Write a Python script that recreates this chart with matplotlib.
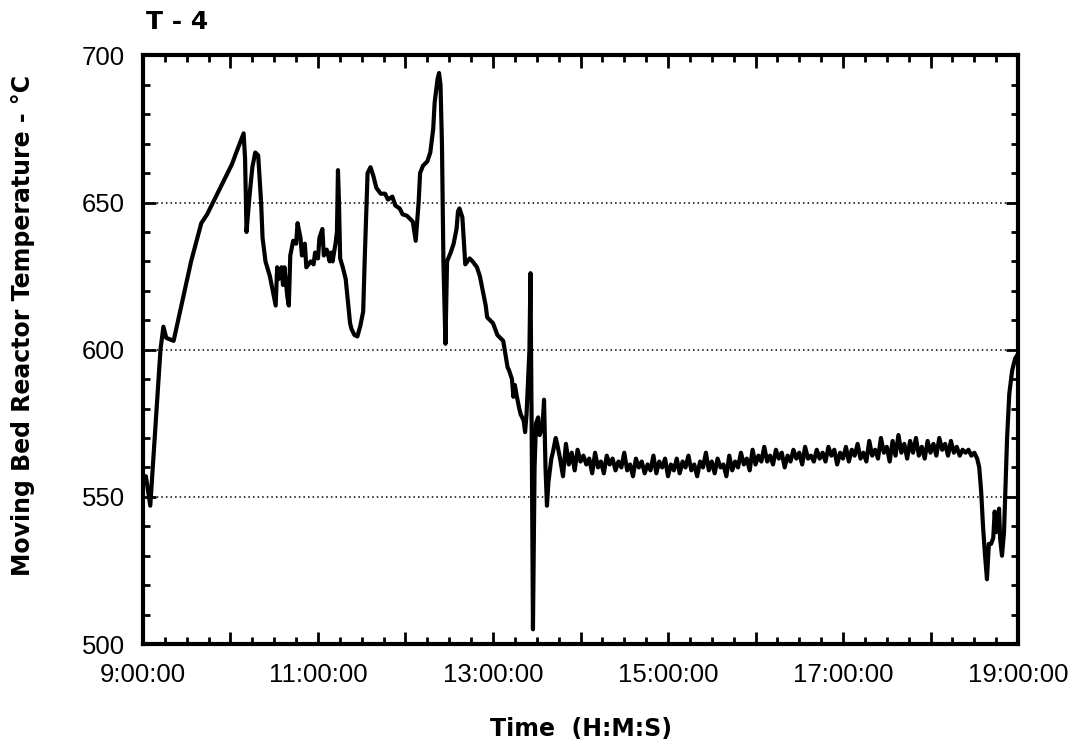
import matplotlib.pyplot as plt
from matplotlib.ticker import MultipleLocator, FuncFormatter

# minutes after 9:00:00
minutes = [0, 2, 5, 12, 14, 16, 21, 25, 29, 33, 37, 40, 44, 48, 53, 58, 61, 64, 69,
           70, 71, 73, 75, 77, 79, 81, 82, 84, 87, 89, 91, 92, 93, 95, 96, 97, 99,
           100, 101, 103, 105, 106, 108, 109, 111, 112, 115, 117, 118, 120, 121, 123,
           124, 126, 128, 129, 130, 132, 133, 133.7, 134.4, 135.2, 137, 139, 141, 142,
           143, 145, 147, 149, 151, 152, 154, 156, 158, 160, 163, 166, 168, 171, 173,
           176, 178, 181, 183, 185, 187, 189, 190, 192, 195, 197, 199, 200, 202, 203,
           204, 205, 206, 207.4, 208.5, 211, 213, 215, 216, 217, 219, 220, 221, 224,
           226, 229, 231, 233, 235, 236, 238, 240, 243, 245, 247, 248, 250, 251, 253,
           254, 255, 256, 258, 259, 261, 262, 263, 265, 265.7, 266.7, 267.4, 268.5,
           269.5, 271, 272, 274, 275, 276, 277, 278, 280, 281, 283, 284,
           286, 288, 290, 292, 294, 296, 298, 300, 302, 304,
           306, 308, 310, 312, 314, 316, 318, 320, 322, 324,
           326, 328, 330, 332, 334, 336, 338, 340, 342, 344,
           346, 348, 350, 352, 354, 356, 358, 360, 362, 364,
           366, 368, 370, 372, 374, 376, 378, 380, 382, 384,
           386, 388, 390, 392, 394, 396, 398, 400, 402, 404,
           406, 408, 410, 412, 414, 416, 418, 420, 422, 424,
           426, 428, 430, 432, 434, 436, 438, 440, 442, 444,
           446, 448, 450, 452, 454, 456, 458, 460, 462, 464,
           466, 468, 470, 472, 474, 476, 478, 480, 482, 484,
           486, 488, 490, 492, 494, 496, 498, 500, 502, 504,
           506, 508, 510, 512, 514, 516, 518, 520, 522, 524,
           526, 528, 530, 532, 534, 536, 538, 540, 542, 544,
           546, 548, 550, 552, 554, 556, 558, 560, 562, 564,
           566, 568, 570,
           572, 573.4, 574.7, 576, 577.4, 578.7, 580, 581.5, 583, 584, 585, 586, 587,
           587.7, 589, 590.4, 591, 592.5, 594, 596, 598, 599.3]

temps = [555, 557, 547, 600, 607.8, 604, 603, 612, 621, 630, 637.5, 643, 646, 650,
         655, 660, 663, 667, 673.5, 665, 640, 652, 662, 667, 666, 650, 638, 630, 625,
         620, 615, 628, 624, 628, 622, 628, 618, 615, 632, 637, 636, 643, 638, 632,
         636, 628, 630, 629, 633, 631, 638, 641, 632, 634, 630, 633, 630, 636, 640,
         661, 650, 631, 628, 624, 614, 609, 607, 605, 604.5, 608, 613, 630, 660, 662,
         659, 655, 653, 653, 651, 652, 649, 648, 646, 645.5, 644.5, 643.5, 637, 650,
         660, 662.5, 664, 667, 675, 684, 692, 694, 690, 670, 630, 602, 630, 633, 636,
         641, 647, 648, 645, 637, 629, 631, 630, 628, 625, 620, 615, 611, 610, 609,
         605, 604, 603, 600, 594, 593, 590, 584, 588, 585, 580, 578, 576, 572, 578,
         600, 626, 560, 505, 560, 575, 577, 571, 574, 583, 560, 547, 555, 563, 565,
         570, 568,
         563, 557, 568, 561, 565, 559, 566, 562, 564, 561,
         563, 558, 565, 560, 562, 558, 564, 561, 563, 559,
         562, 560, 565, 559, 561, 557, 563, 560, 562, 558,
         561, 559, 564, 558, 562, 560, 563, 557, 561, 559,
         563, 558, 562, 560, 564, 559, 561, 557, 562, 560,
         565, 559, 562, 558, 563, 560, 561, 557, 564, 559,
         562, 560, 565, 561, 563, 559, 566, 561, 564, 562,
         567, 562, 564, 561, 566, 563, 565, 560, 564, 562,
         566, 563, 565, 561, 567, 563, 564, 562, 566, 563,
         565, 562, 567, 564, 566, 561, 565, 563, 567, 562,
         566, 564, 568, 563, 565, 562, 569, 564, 566, 563,
         570, 565, 567, 562, 569, 564, 571, 565, 568, 563,
         569, 565, 570, 564, 567, 563, 569, 565, 568, 564,
         570, 566, 568, 564, 569, 565, 567, 564, 566, 565,
         566, 564, 565,
         563, 560, 552, 540, 530, 522, 534, 534, 536, 545, 538, 540, 546, 536, 530,
         538, 547, 570, 585, 593, 597, 598]

grid_levels = [550, 600, 650]

plt.rcParams['font.family'] = ['Liberation Sans', 'DejaVu Sans']

fig = plt.figure(figsize=(10.75, 7.48), dpi=100)
ax = fig.add_axes([0.133, 0.139, 0.814, 0.787])

ax.plot(minutes, temps, color="black", lw=3.0, solid_joinstyle="round")
for g in grid_levels:
    ax.axhline(g, color="black", lw=1.1, ls=(0, (1, 2)), zorder=0)

ax.set_xlim(0, 600)
ax.set_ylim(500, 700)

ax.xaxis.set_major_locator(MultipleLocator(60))
ax.xaxis.set_minor_locator(MultipleLocator(15))
ax.yaxis.set_major_locator(MultipleLocator(50))
ax.yaxis.set_minor_locator(MultipleLocator(10))


def fmt_time(m, pos):
    h = 9 + int(round(m)) // 60
    if (h - 9) % 2:
        return ""
    return f"{h}:00:00"


ax.xaxis.set_major_formatter(FuncFormatter(fmt_time))

ax.tick_params(which="both", direction="in", top=True, right=True, width=2)
ax.tick_params(which="major", length=9, labelsize=18.5)
ax.tick_params(axis="x", which="major", pad=14)
ax.tick_params(axis="y", which="major", pad=13)
ax.tick_params(which="minor", length=5)
for s in ax.spines.values():
    s.set_linewidth(3.0)

bold = dict(family="DejaVu Sans", fontweight="bold")
fig.text(0.5405, 0.026, "Time  (H:M:S)", fontsize=17, ha="center", va="center", **bold)
fig.text(0.0214, 0.565, "Moving Bed Reactor Temperature - °C", fontsize=17,
         rotation=90, ha="center", va="center", **bold)
fig.text(0.165, 0.970, "T - 4", fontsize=18, ha="center", va="center", **bold)

fig.savefig("out.png", dpi=100)
